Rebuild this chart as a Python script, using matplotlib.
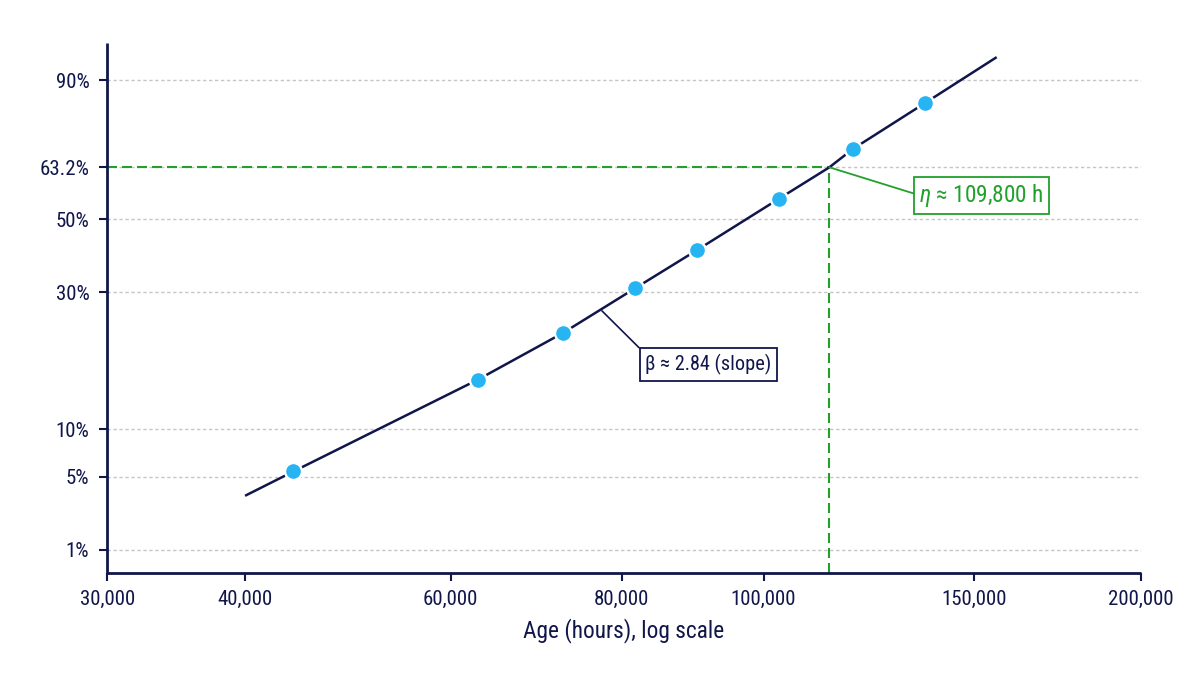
import numpy as np
import matplotlib
matplotlib.use("Agg")
import matplotlib.pyplot as plt
from matplotlib.ticker import FixedLocator, FixedFormatter, NullLocator
from matplotlib import font_manager

# ---------------- data ----------------
age_hours = [44000, 62800, 72500, 81700, 90100, 102200, 115500, 134900]
unreliability_pct = [5.4, 15.1, 22.0, 30.9, 40.8, 55.1, 69.6, 84.2]

fit_age = [40000, 44000, 62800, 72500, 81700, 90100, 102200, 109800, 115500, 134900, 156000]
fit_pct = [3.3, 5.4, 15.1, 22.0, 30.9, 40.8, 55.1, 63.2, 69.6, 84.2, 94.3]

eta_hours = 109800
eta_pct = 63.2
beta_value = 2.84
beta_anchor_age = 77400
beta_anchor_pct = 26.1

x_ticks = [30000, 40000, 60000, 80000, 100000, 150000, 200000]
x_tick_labels = ["30,000", "40,000", "60,000", "80,000", "100,000", "150,000", "200,000"]
y_ticks = [1, 5, 10, 30, 50, 63.2, 90]
y_tick_labels = ["1%", "5%", "10%", "30%", "50%", "63.2%", "90%"]

# ---------------- style ----------------
NAVY = "#10164a"
BLUE = "#27b4f2"
GREEN = "#22a02c"
GRID = "#c6c6c6"

available = {f.name for f in font_manager.fontManager.ttflist}
condensed = "Roboto Condensed" in available
main_font = "Roboto Condensed" if condensed else "Roboto"
plt.rcParams["font.family"] = [main_font, "DejaVu Sans"]
plt.rcParams["mathtext.fontset"] = "custom"
plt.rcParams["mathtext.rm"] = main_font
plt.rcParams["mathtext.it"] = main_font + ":italic"

k = 1.0 if condensed else 0.9
FS_TICK = 15.0 * k
FS_LABEL = 16.8 * k
FS_BETA = 14.6 * k
FS_ETA = 16.8 * k

W, H = 1200, 675
fig = plt.figure(figsize=(W / 100, H / 100), dpi=100)
ax = fig.add_axes([107.4 / W, 1 - 573 / H, (1140.7 - 107.4) / W, (573 - 43) / H])


# ---------------- custom scales (match the reference's axis geometry) ----------------
def make_interp(xk, yk):
    xk = np.asarray(xk, float)
    yk = np.asarray(yk, float)
    s0 = (yk[1] - yk[0]) / (xk[1] - xk[0])
    s1 = (yk[-1] - yk[-2]) / (xk[-1] - xk[-2])

    def f(v):
        v = np.asarray(v, float)
        out = np.interp(v, xk, yk)
        out = np.where(v < xk[0], yk[0] + (v - xk[0]) * s0, out)
        out = np.where(v > xk[-1], yk[-1] + (v - xk[-1]) * s1, out)
        return out

    return f


# x: piecewise in log space, anchored at the labelled values
x_knot_vals = [30000, 40000, 60000, 80000, 100000, eta_hours, 150000, 200000]
x_knot_pos = [107.1, 244.8, 450.3, 621.4, 763.4, 829.3, 973.9, 1140.7]
lx = np.log10(x_knot_vals)
xf = make_interp(lx, x_knot_pos)
xi = make_interp(x_knot_pos, lx)


def x_fwd(v):
    v = np.asarray(v, float)
    return xf(np.log10(np.clip(v, 1e-9, None)))


def x_inv(p):
    return 10 ** xi(p)


# y: piecewise in Weibull space, anchored at the labelled percentages
def weib(F):
    F = np.clip(np.asarray(F, float) / 100.0, 1e-12, 1 - 1e-12)
    return np.log(-np.log(1 - F))


y_knot_pos = [0, 73.3, 120.7, 257.7, 330.7, 382.7, 470]
wk = weib(y_ticks)
yf = make_interp(wk, y_knot_pos)
yi = make_interp(y_knot_pos, wk)


def y_fwd(F):
    return yf(weib(F))


def y_inv(p):
    w = yi(p)
    return 100 * (1 - np.exp(-np.exp(w)))


ax.set_xscale("function", functions=(x_fwd, x_inv))
ax.set_yscale("function", functions=(y_fwd, y_inv))
ax.set_xlim(x_ticks[0], x_ticks[-1])
y_lo = float(y_inv(550 - 573))
y_hi = float(y_inv(550 - 43))
ax.set_ylim(y_lo, y_hi)

# ---------------- axes cosmetics ----------------
for s in ["top", "right"]:
    ax.spines[s].set_visible(False)
for s in ["left", "bottom"]:
    ax.spines[s].set_color(NAVY)
    ax.spines[s].set_linewidth(2.0)
    ax.spines[s].set_capstyle("butt")

ax.xaxis.set_major_locator(FixedLocator(x_ticks))
ax.xaxis.set_major_formatter(FixedFormatter(x_tick_labels))
ax.xaxis.set_minor_locator(NullLocator())
ax.yaxis.set_major_locator(FixedLocator(y_ticks))
ax.yaxis.set_major_formatter(FixedFormatter(y_tick_labels))
ax.yaxis.set_minor_locator(NullLocator())

ax.tick_params(axis="both", direction="out", length=6, width=1.5, color=NAVY,
               labelcolor=NAVY, labelsize=FS_TICK)
ax.tick_params(axis="x", pad=6.5)
ax.tick_params(axis="y", pad=7)

ax.set_axisbelow(True)
ax.grid(axis="y", color=GRID, linestyle=(0, (2.4, 1.9)), linewidth=1.0)
ax.grid(axis="x", visible=False)

ax.set_xlabel("Age (hours), log scale", fontsize=FS_LABEL, color=NAVY, labelpad=6)

# ---------------- eta guide lines ----------------
ax.plot([x_ticks[0], eta_hours], [eta_pct, eta_pct], color=GREEN, lw=1.5,
        linestyle=(0, (4.8, 2.4)), zorder=2, solid_capstyle="butt")
ax.plot([eta_hours, eta_hours], [y_lo, eta_pct], color=GREEN, lw=1.5,
        linestyle=(0, (4.8, 2.4)), zorder=2, clip_on=False)

# ---------------- fit line & points ----------------
ax.plot(fit_age, fit_pct, color=NAVY, lw=1.8, zorder=3, solid_capstyle="butt")
ax.plot(age_hours, unreliability_pct, linestyle="none", marker="o", markersize=12.2,
        markerfacecolor=BLUE, markeredgecolor="white", markeredgewidth=1.66, zorder=4)

# ---------------- annotations ----------------
ax.annotate("β ≈ {:.2f} (slope)".format(beta_value),
            xy=(beta_anchor_age, beta_anchor_pct), xycoords="data",
            xytext=(708.5, H - 364.5), textcoords="figure pixels",
            ha="center", va="center", fontsize=FS_BETA, color=NAVY,
            bbox=dict(boxstyle="square,pad=0.28", fc="white", ec=NAVY, lw=1.3),
            arrowprops=dict(arrowstyle="-", color=NAVY, lw=1.2, relpos=(0, 1),
                            shrinkA=0, shrinkB=0),
            zorder=5)

ax.annotate(r"$\eta$ ≈ {:,} h".format(eta_hours),
            xy=(eta_hours, eta_pct), xycoords="data",
            xytext=(981.5, H - 195.2), textcoords="figure pixels",
            ha="center", va="center", fontsize=FS_ETA, color=GREEN,
            bbox=dict(boxstyle="square,pad=0.22", fc="white", ec=GREEN, lw=1.3),
            arrowprops=dict(arrowstyle="-", color=GREEN, lw=1.3, relpos=(0, 0.5),
                            shrinkA=0, shrinkB=0),
            zorder=5)

fig.savefig("out.png", dpi=100, facecolor="white")
